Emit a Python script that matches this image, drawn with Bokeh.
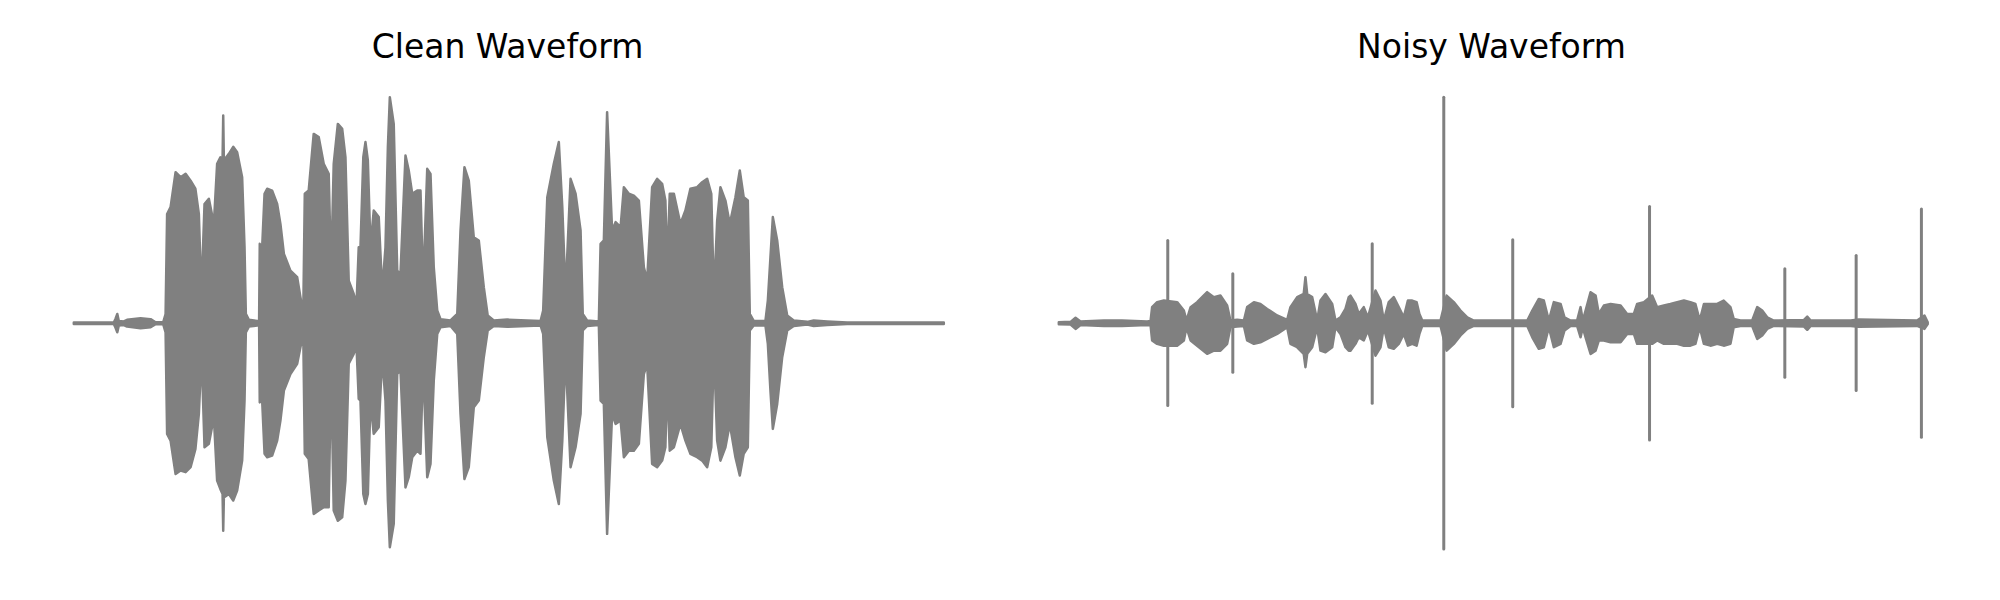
from bokeh.plotting import figure
from bokeh.layouts import row
from bokeh.models import Range1d
from bokeh.embed import file_html
from bokeh.resources import INLINE

titles = ["Clean Waveform", "Noisy Waveform"]

# Clean waveform envelope (time in s, upper / lower amplitude)
clean_t = [0.000, 0.184, 0.192, 0.200, 0.207, 0.230, 0.245, 0.307, 0.353, 0.376, 0.411, 0.422,
           0.429, 0.445, 0.468, 0.491, 0.514, 0.537, 0.559, 0.575, 0.583, 0.590, 0.601, 0.621,
           0.644, 0.659, 0.674, 0.684, 0.687, 0.690, 0.713, 0.733, 0.751, 0.774, 0.785, 0.791,
           0.805, 0.843, 0.852, 0.855, 0.866, 0.877, 0.889, 0.912, 0.935, 0.950, 0.966, 0.996,
           1.027, 1.042, 1.055, 1.062, 1.080, 1.103, 1.126, 1.149, 1.172, 1.183, 1.195, 1.214,
           1.234, 1.249, 1.264, 1.287, 1.300, 1.310, 1.318, 1.331, 1.341, 1.352, 1.364, 1.379,
           1.402, 1.418, 1.433, 1.444, 1.453, 1.471, 1.487, 1.502, 1.525, 1.540, 1.556, 1.579,
           1.594, 1.606, 1.625, 1.640, 1.655, 1.671, 1.686, 1.732, 1.763, 1.778, 1.796, 1.816,
           1.839, 1.862, 1.885, 1.903, 1.931, 1.993, 2.085, 2.146, 2.158, 2.177, 2.207, 2.230,
           2.246, 2.261, 2.284, 2.307, 2.330, 2.340, 2.360, 2.414, 2.422, 2.437, 2.452, 2.475,
           2.491, 2.514, 2.529, 2.552, 2.575, 2.598, 2.621, 2.636, 2.659, 2.682, 2.705, 2.720,
           2.728, 2.740, 2.759, 2.789, 2.812, 2.835, 2.866, 2.889, 2.912, 2.931, 2.943, 2.958,
           2.973, 2.996, 3.016, 3.042, 3.062, 3.080, 3.099, 3.108, 3.126, 3.180, 3.191, 3.203,
           3.214, 3.234, 3.257, 3.280, 3.310, 3.372, 3.402, 3.464, 3.556, 4.000]
clean_upper = [0.003, 0.003, 0.020, 0.041, 0.010, 0.008, 0.015, 0.022, 0.018, 0.004, 0.004, 0.040,
               0.482, 0.512, 0.666, 0.644, 0.659, 0.629, 0.594, 0.482, 0.232, 0.218, 0.526, 0.549,
               0.438, 0.703, 0.732, 0.725, 0.916, 0.718, 0.747, 0.778, 0.754, 0.644, 0.335, 0.041,
               0.015, 0.010, 0.010, 0.350, 0.335, 0.571, 0.593, 0.585, 0.526, 0.438, 0.306, 0.232,
               0.203, 0.115, 0.041, 0.571, 0.585, 0.835, 0.821, 0.703, 0.659, 0.218, 0.703, 0.879,
               0.857, 0.732, 0.188, 0.129, 0.085, 0.335, 0.335, 0.732, 0.799, 0.718, 0.335, 0.497,
               0.468, 0.144, 0.335, 0.776, 0.997, 0.879, 0.232, 0.218, 0.740, 0.674, 0.571, 0.585,
               0.585, 0.159, 0.681, 0.659, 0.247, 0.056, 0.018, 0.012, 0.041, 0.409, 0.688, 0.629,
               0.379, 0.365, 0.159, 0.034, 0.012, 0.016, 0.012, 0.010, 0.056, 0.556, 0.703, 0.799,
               0.512, 0.129, 0.637, 0.571, 0.409, 0.041, 0.012, 0.008, 0.350, 0.365, 0.931, 0.409,
               0.446, 0.424, 0.600, 0.571, 0.563, 0.541, 0.247, 0.188, 0.600, 0.637, 0.615, 0.541,
               0.247, 0.571, 0.571, 0.438, 0.497, 0.593, 0.600, 0.622, 0.637, 0.571, 0.115, 0.453,
               0.600, 0.541, 0.438, 0.556, 0.674, 0.556, 0.541, 0.041, 0.010, 0.010, 0.100, 0.291,
               0.468, 0.365, 0.159, 0.034, 0.012, 0.006, 0.012, 0.008, 0.003, 0.003]
clean_lower = [-0.003, -0.003, -0.020, -0.040, -0.010, -0.008, -0.015, -0.022, -0.018, -0.004, -0.004, -0.040,
               -0.488, -0.518, -0.665, -0.650, -0.657, -0.635, -0.556, -0.400, -0.224, -0.209, -0.547, -0.532,
               -0.415, -0.694, -0.732, -0.753, -0.915, -0.768, -0.753, -0.782, -0.738, -0.606, -0.341, -0.040,
               -0.015, -0.010, -0.010, -0.349, -0.341, -0.576, -0.591, -0.584, -0.518, -0.429, -0.297, -0.224,
               -0.179, -0.106, -0.047, -0.576, -0.599, -0.841, -0.826, -0.812, -0.812, -0.194, -0.826, -0.871,
               -0.856, -0.694, -0.179, -0.135, -0.106, -0.334, -0.341, -0.753, -0.797, -0.753, -0.341, -0.488,
               -0.459, -0.150, -0.341, -0.782, -0.988, -0.885, -0.224, -0.209, -0.724, -0.679, -0.591, -0.562,
               -0.576, -0.179, -0.679, -0.621, -0.253, -0.047, -0.018, -0.012, -0.047, -0.400, -0.687, -0.635,
               -0.371, -0.341, -0.150, -0.032, -0.012, -0.016, -0.012, -0.010, -0.047, -0.503, -0.694, -0.797,
               -0.518, -0.135, -0.635, -0.547, -0.400, -0.032, -0.012, -0.008, -0.341, -0.356, -0.929, -0.400,
               -0.444, -0.429, -0.591, -0.562, -0.562, -0.532, -0.224, -0.179, -0.621, -0.635, -0.606, -0.547,
               -0.253, -0.562, -0.547, -0.444, -0.518, -0.576, -0.591, -0.606, -0.635, -0.547, -0.106, -0.518,
               -0.606, -0.547, -0.444, -0.591, -0.672, -0.576, -0.547, -0.032, -0.010, -0.010, -0.091, -0.297,
               -0.466, -0.356, -0.150, -0.032, -0.012, -0.006, -0.012, -0.008, -0.003, -0.003]

# Noisy waveform envelope
noisy_t = [0.000, 0.054, 0.077, 0.100, 0.207, 0.291, 0.406, 0.422, 0.429, 0.452, 0.483, 0.544,
           0.575, 0.587, 0.606, 0.636, 0.682, 0.713, 0.743, 0.774, 0.789, 0.820, 0.851, 0.866,
           0.897, 0.927, 0.958, 1.004, 1.050, 1.065, 1.096, 1.126, 1.134, 1.142, 1.165, 1.188,
           1.203, 1.226, 1.257, 1.272, 1.295, 1.318, 1.333, 1.341, 1.364, 1.379, 1.402, 1.421,
           1.456, 1.479, 1.494, 1.517, 1.540, 1.563, 1.586, 1.605, 1.625, 1.645, 1.658, 1.671,
           1.755, 1.783, 1.816, 1.847, 1.878, 1.908, 2.077, 2.154, 2.177, 2.207, 2.230, 2.253,
           2.276, 2.307, 2.325, 2.353, 2.383, 2.399, 2.409, 2.422, 2.445, 2.468, 2.483, 2.506,
           2.537, 2.583, 2.613, 2.644, 2.659, 2.690, 2.728, 2.751, 2.782, 2.812, 2.843, 2.874,
           2.904, 2.927, 2.947, 2.966, 2.996, 3.027, 3.057, 3.088, 3.103, 3.134, 3.188, 3.211,
           3.234, 3.257, 3.287, 3.425, 3.441, 3.457, 3.641, 3.678, 3.946, 3.980, 3.995]
noisy_upper = [0.004, 0.006, 0.024, 0.008, 0.012, 0.012, 0.008, 0.010, 0.071, 0.093, 0.100, 0.093,
               0.056, 0.012, 0.071, 0.093, 0.137, 0.115, 0.122, 0.078, 0.012, 0.015, 0.012, 0.071,
               0.093, 0.085, 0.063, 0.034, 0.015, 0.071, 0.115, 0.129, 0.203, 0.129, 0.115, 0.012,
               0.100, 0.129, 0.085, 0.012, 0.026, 0.063, 0.115, 0.122, 0.085, 0.041, 0.071, 0.026,
               0.144, 0.100, 0.012, 0.093, 0.115, 0.071, 0.026, 0.100, 0.100, 0.093, 0.041, 0.012,
               0.012, 0.122, 0.093, 0.056, 0.026, 0.012, 0.012, 0.012, 0.056, 0.107, 0.100, 0.012,
               0.093, 0.085, 0.026, 0.012, 0.012, 0.071, 0.012, 0.056, 0.137, 0.122, 0.041, 0.078,
               0.085, 0.078, 0.041, 0.041, 0.085, 0.093, 0.122, 0.071, 0.078, 0.085, 0.093, 0.100,
               0.093, 0.085, 0.012, 0.085, 0.085, 0.085, 0.100, 0.071, 0.019, 0.012, 0.012, 0.071,
               0.056, 0.026, 0.012, 0.014, 0.029, 0.012, 0.012, 0.016, 0.012, 0.034, 0.004]
noisy_lower = [-0.004, -0.006, -0.025, -0.008, -0.012, -0.012, -0.008, -0.010, -0.076, -0.091, -0.099, -0.099,
               -0.076, -0.018, -0.076, -0.099, -0.135, -0.121, -0.121, -0.091, -0.018, -0.015, -0.012, -0.076,
               -0.091, -0.084, -0.069, -0.047, -0.018, -0.091, -0.106, -0.135, -0.194, -0.135, -0.106, -0.018,
               -0.121, -0.128, -0.106, -0.018, -0.047, -0.106, -0.121, -0.121, -0.091, -0.062, -0.076, -0.032,
               -0.143, -0.106, -0.018, -0.106, -0.113, -0.091, -0.047, -0.099, -0.091, -0.099, -0.047, -0.012,
               -0.012, -0.121, -0.091, -0.054, -0.025, -0.012, -0.012, -0.012, -0.062, -0.113, -0.106, -0.018,
               -0.106, -0.091, -0.032, -0.012, -0.012, -0.062, -0.018, -0.062, -0.135, -0.121, -0.076, -0.076,
               -0.084, -0.084, -0.047, -0.047, -0.091, -0.091, -0.091, -0.076, -0.091, -0.091, -0.091, -0.099,
               -0.099, -0.091, -0.018, -0.091, -0.099, -0.091, -0.099, -0.091, -0.018, -0.012, -0.012, -0.069,
               -0.054, -0.025, -0.012, -0.014, -0.029, -0.012, -0.012, -0.016, -0.012, -0.025, -0.004]

# Noisy waveform impulse spikes
spike_t = [0.501, 0.800, 1.441, 1.770, 2.087, 2.716, 3.338, 3.666, 3.966]
spike_upper = [0.365, 0.218, 0.350, 0.997, 0.368, 0.515, 0.240, 0.299, 0.504]
spike_lower = [-0.363, -0.216, -0.353, -0.996, -0.368, -0.515, -0.238, -0.297, -0.503]

GREY = "#808080"
PX_PER_S = 217.5


def make_panel(title, t, up, lo, width, x_start):
    p = figure(width=width, height=600, output_backend="svg", toolbar_location=None,
               x_range=Range1d(x_start, x_start + width / PX_PER_S),
               y_range=Range1d(-1.223, 1.1147),
               x_axis_location=None, y_axis_location=None,
               min_border_left=0, min_border_right=0, min_border_bottom=0, min_border_top=70,
               title=title)
    p.title.align = "center"
    p.title.text_font = "DejaVu Sans"
    p.title.text_font_size = "33px"
    p.title.text_font_style = "normal"
    p.title.text_color = "black"
    p.grid.visible = False
    p.outline_line_color = None
    p.background_fill_color = "white"
    p.border_fill_color = "white"
    xs = list(t) + list(t[::-1])
    ys = list(up) + list(lo[::-1])
    p.patch(xs, ys, fill_color=GREY, line_color=GREY, line_width=2.5, line_join="round")
    return p


p1 = make_panel(titles[0], clean_t, clean_upper, clean_lower, 1014, -0.337)
p2 = make_panel(titles[1], noisy_t, noisy_upper, noisy_lower, 954, -0.2037)
p2.segment(x0=spike_t, y0=spike_lower, x1=spike_t, y1=spike_upper,
           line_color=GREY, line_width=3, line_cap="round")

layout = row(p1, p2)
open("out.html", "w").write(file_html(layout, INLINE))
